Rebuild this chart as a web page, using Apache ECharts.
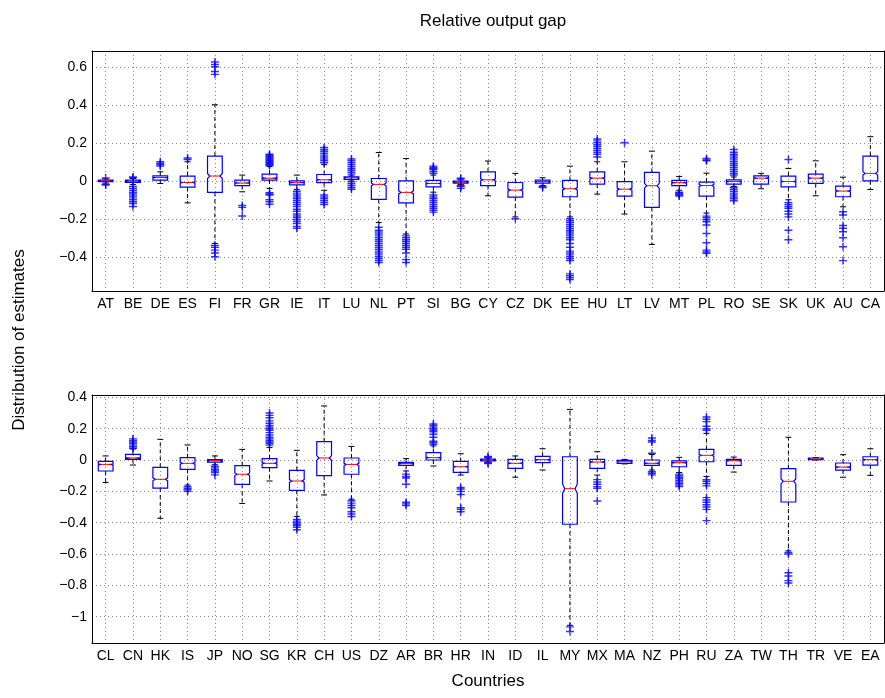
<!DOCTYPE html>
<html>
<head>
<meta charset="utf-8">
<title>Relative output gap</title>
<script src="https://cdn.jsdelivr.net/npm/echarts@6/dist/echarts.min.js"></script>
<style>
  html, body { margin: 0; padding: 0; background: #fff; }
  #chart { width: 885px; height: 698px; }
</style>
</head>
<body>
<div id="chart"></div>
<script>
// box stats per country: [lower whisker, q1, median, q3, upper whisker]
const topCountries = ['AT','BE','DE','ES','FI','FR','GR','IE','IT','LU','NL','PT','SI','BG','CY','CZ','DK','EE','HU','LT','LV','MT','PL','RO','SE','SK','UK','AU','CA'];
const topStats = [
  [-0.012, -0.004, 0, 0.004, 0.01],
  [-0.02, -0.009, -0.003, 0.003, 0.012],
  [-0.014, 0.004, 0.017, 0.026, 0.047],
  [-0.116, -0.033, -0.009, 0.025, 0.1],
  [-0.33, -0.061, 0.025, 0.13, 0.4],
  [-0.058, -0.025, -0.012, 0.004, 0.03],
  [-0.04, 0.004, 0.014, 0.035, 0.075],
  [-0.045, -0.021, -0.01, 0, 0.03],
  [-0.05, -0.01, 0.005, 0.033, 0.085],
  [0.004, 0.007, 0.016, 0.021, 0.026],
  [-0.22, -0.098, -0.019, 0.012, 0.149],
  [-0.28, -0.116, -0.061, 0, 0.117],
  [-0.06, -0.032, -0.014, 0.002, 0.03],
  [-0.02, -0.012, -0.008, -0.002, 0.005],
  [-0.079, -0.025, 0.005, 0.047, 0.104],
  [-0.19, -0.086, -0.049, -0.009, 0.039],
  [-0.025, -0.012, -0.004, 0.004, 0.016],
  [-0.19, -0.084, -0.042, 0.002, 0.077],
  [-0.07, -0.018, 0.014, 0.047, 0.1],
  [-0.175, -0.081, -0.044, -0.004, 0.1],
  [-0.335, -0.14, -0.026, 0.044, 0.156],
  [-0.05, -0.025, -0.01, 0.002, 0.023],
  [-0.17, -0.081, -0.025, -0.007, 0.04],
  [-0.03, -0.018, -0.004, 0.005, 0.02],
  [-0.042, -0.018, 0.014, 0.026, 0.039],
  [-0.1, -0.032, -0.004, 0.025, 0.065],
  [-0.079, -0.014, 0.014, 0.035, 0.105],
  [-0.137, -0.084, -0.054, -0.028, 0.019],
  [-0.046, 0, 0.039, 0.13, 0.232]
];
const topOutliers = [
  [0.015, -0.018, -0.022],
  [0.02, 0.016, -0.03, -0.04, -0.05, -0.06, -0.07, -0.08, -0.09, -0.1, -0.11, -0.12, -0.135],
  [0.078, 0.085, 0.092, 0.1],
  [0.112, 0.12],
  [0.625, 0.612, 0.6, 0.575, 0.56, -0.34, -0.35, -0.365, -0.38, -0.4],
  [-0.13, -0.14, -0.185],
  [0.08, 0.085, 0.09, 0.095, 0.1, 0.105, 0.11, 0.115, 0.12, 0.125, 0.13, 0.135, 0.14, -0.063, -0.07, -0.075, -0.1, -0.11, -0.123],
  [-0.055, -0.065, -0.075, -0.085, -0.095, -0.105, -0.115, -0.125, -0.135, -0.15, -0.16, -0.175, -0.185, -0.195, -0.205, -0.215, -0.225, -0.24, -0.25],
  [0.095, 0.105, 0.115, 0.125, 0.135, 0.145, 0.155, 0.165, 0.175, -0.075, -0.085, -0.095, -0.105, -0.115, -0.125],
  [0.035, 0.045, 0.055, 0.065, 0.075, 0.085, 0.095, 0.105, 0.115, -0.005, -0.015, -0.025, -0.035, -0.045],
  [-0.245, -0.26, -0.27, -0.28, -0.29, -0.3, -0.31, -0.32, -0.33, -0.34, -0.35, -0.36, -0.37, -0.38, -0.39, -0.4, -0.41, -0.42, -0.43],
  [-0.29, -0.3, -0.31, -0.32, -0.33, -0.34, -0.35, -0.36, -0.38, -0.415, -0.43],
  [0.04, 0.05, 0.06, 0.065, 0.07, 0.077, -0.075, -0.085, -0.095, -0.105, -0.115, -0.125, -0.135, -0.145, -0.155, -0.165],
  [0.01, 0.013, -0.025, -0.03, -0.04],
  [],
  [-0.2],
  [-0.03, -0.035],
  [-0.2, -0.21, -0.22, -0.23, -0.24, -0.25, -0.26, -0.27, -0.28, -0.29, -0.3, -0.31, -0.33, -0.35, -0.37, -0.38, -0.39, -0.4, -0.41, -0.42, -0.49, -0.5, -0.51, -0.52],
  [0.125, 0.14, 0.15, 0.16, 0.17, 0.18, 0.19, 0.2, 0.21, 0.22],
  [0.2],
  [],
  [-0.06, -0.065, -0.07, -0.075, -0.08],
  [0.105, 0.11, 0.117, -0.186, -0.195, -0.205, -0.216, -0.233, -0.277, -0.326, -0.365, -0.375, -0.382],
  [0.03, 0.04, 0.05, 0.06, 0.07, 0.08, 0.09, 0.1, 0.11, 0.12, 0.13, 0.14, 0.15, 0.165, -0.035, -0.045, -0.055, -0.065, -0.075, -0.085, -0.095, -0.105],
  [],
  [0.112, -0.115, -0.125, -0.135, -0.145, -0.16, -0.175, -0.19, -0.26, -0.31],
  [],
  [-0.163, -0.18, -0.235, -0.25, -0.268, -0.3, -0.347, -0.42],
  []
];

const bottomCountries = ['CL','CN','HK','IS','JP','NO','SG','KR','CH','US','DZ','AR','BR','HR','IN','ID','IL','MY','MX','MA','NZ','PH','RU','ZA','TW','TH','TR','VE','EA'];
const bottomStats = [
  [-0.143, -0.07, -0.028, -0.009, 0.026],
  [-0.032, 0.004, 0.013, 0.036, 0.07],
  [-0.372, -0.179, -0.123, -0.047, 0.132],
  [-0.16, -0.06, -0.021, 0.015, 0.096],
  [-0.03, -0.013, -0.004, 0.002, 0.026],
  [-0.277, -0.155, -0.091, -0.036, 0.068],
  [-0.134, -0.049, -0.021, 0.009, 0.08],
  [-0.36, -0.194, -0.134, -0.066, 0.062],
  [-0.223, -0.1, 0.013, 0.117, 0.345],
  [-0.25, -0.091, -0.028, 0.013, 0.087],
  null,
  [-0.07, -0.034, -0.023, -0.015, 0.009],
  [-0.038, 0, 0.015, 0.047, 0.09],
  [-0.096, -0.079, -0.043, -0.009, 0.04],
  [-0.012, -0.006, 0, 0.006, 0.012],
  [-0.11, -0.053, -0.021, 0.004, 0.026],
  [-0.064, -0.017, 0.002, 0.023, 0.072],
  [-1.055, -0.41, -0.183, 0.021, 0.323],
  [-0.096, -0.053, -0.013, 0.004, 0.053],
  [-0.025, -0.021, -0.011, -0.002, 0.004],
  [-0.064, -0.034, -0.021, 0, 0.035],
  [-0.08, -0.043, -0.017, -0.006, 0.017],
  [-0.106, -0.011, 0.03, 0.068, 0.17],
  [-0.077, -0.034, -0.004, 0.004, 0.019],
  null,
  [-0.58, -0.268, -0.136, -0.055, 0.145],
  [0, 0.002, 0.006, 0.013, 0.015],
  [-0.11, -0.064, -0.045, -0.019, 0.034],
  [-0.098, -0.032, 0.002, 0.021, 0.072]
];
const bottomOutliers = [
  [],
  [0.075, 0.085, 0.095, 0.105, 0.115, 0.125, 0.135],
  [],
  [-0.17, -0.18, -0.19, -0.2],
  [-0.04, -0.05, -0.06, -0.07, -0.08, -0.095],
  [],
  [0.095, 0.105, 0.115, 0.125, 0.135, 0.145, 0.16, 0.175, 0.19, 0.2, 0.21, 0.22, 0.235, 0.25, 0.27, 0.285, 0.3],
  [-0.38, -0.39, -0.4, -0.41, -0.42, -0.43, -0.445],
  [],
  [-0.26, -0.275, -0.29, -0.305, -0.33, -0.345, -0.36],
  [],
  [-0.09, -0.105, -0.115, -0.155, -0.27, -0.28, -0.29],
  [0.1, 0.11, 0.12, 0.145, 0.165, 0.18, 0.19, 0.2, 0.21, 0.22, 0.23],
  [-0.175, -0.185, -0.2, -0.22, -0.305, -0.315, -0.33],
  [0.018, 0.022, -0.018, -0.022],
  [],
  [],
  [-1.065, -1.095],
  [-0.125, -0.14, -0.155, -0.17, -0.18, -0.262],
  [],
  [0.043, 0.115, 0.125, 0.14, -0.075, -0.085, -0.095],
  [-0.09, -0.1, -0.11, -0.12, -0.13, -0.14, -0.15, -0.16, -0.17],
  [0.19, 0.2, 0.215, 0.245, 0.26, 0.275, -0.125, -0.135, -0.15, -0.165, -0.24, -0.255, -0.27, -0.285, -0.3, -0.315, -0.387],
  [],
  [],
  [-0.59, -0.6, -0.72, -0.74, -0.77, -0.785],
  [],
  [],
  []
];

const FONT = '"Liberation Sans", Arial, Helvetica, sans-serif';
const NOTCH = 0.07; // notch half-height as a share of the IQR
const plusSymbol = 'path://M4.1,0H5.9V4.1H10V5.9H5.9V10H4.1V5.9H0V4.1H4.1Z';

const boxData = stats => stats.map((s, i) => s ? [i].concat(s) : null).filter(Boolean);
const outlierData = outs => outs.flatMap((list, i) => list.map(v => [i, v]));

function renderBox(params, api) {
  const i = api.value(0);
  const lo = api.value(1), q1 = api.value(2), med = api.value(3), q3 = api.value(4), hi = api.value(5);
  const y = v => api.coord([i, v])[1];
  const cx = api.coord([i, med])[0];
  const h = api.size([1, 0])[0] * 0.27;
  const d = h * 0.3;
  const n = NOTCH * (q3 - q1);
  const yN1 = y(Math.max(med - n, q1)), yN2 = y(Math.min(med + n, q3));
  const yQ1 = y(q1), yQ3 = y(q3), yMed = y(med), yLo = y(lo), yHi = y(hi);
  const cap = 3;
  const dash = { stroke: '#000', lineWidth: 1, lineDash: [4, 3] };
  const solid = { stroke: '#000', lineWidth: 1 };
  return {
    type: 'group',
    children: [
      { type: 'line', shape: { x1: cx, y1: yQ3, x2: cx, y2: yHi }, style: dash },
      { type: 'line', shape: { x1: cx, y1: yQ1, x2: cx, y2: yLo }, style: dash },
      { type: 'line', shape: { x1: cx - cap, y1: yHi, x2: cx + cap, y2: yHi }, style: solid },
      { type: 'line', shape: { x1: cx - cap, y1: yLo, x2: cx + cap, y2: yLo }, style: solid },
      {
        type: 'polygon',
        shape: { points: [
          [cx - h, yQ1], [cx - h, yN1], [cx - h + d, yMed], [cx - h, yN2], [cx - h, yQ3],
          [cx + h, yQ3], [cx + h, yN2], [cx + h - d, yMed], [cx + h, yN1], [cx + h, yQ1]
        ] },
        style: { fill: 'none', stroke: '#0000ff', lineWidth: 1.2 }
      },
      { type: 'line', shape: { x1: cx - h + d, y1: yMed, x2: cx + h - d, y2: yMed }, style: { stroke: '#ff0000', lineWidth: 1 } }
    ]
  };
}

const gridLine = { show: true, alignWithLabel: true, lineStyle: { color: '#8a8a8a', type: [1, 3], width: 1 } };
const blackLine = { show: true, onZero: false, lineStyle: { color: '#000', width: 1 } };

function xAxes(gridIndex, cats, withName) {
  return [
    {
      gridIndex, type: 'category', data: cats, position: 'bottom',
      axisLine: blackLine,
      axisTick: { inside: true, alignWithLabel: true, length: 5, lineStyle: { color: '#000' } },
      axisLabel: { interval: 0, color: '#000', fontSize: 14, fontFamily: FONT, margin: 6 },
      splitLine: gridLine,
      name: withName ? 'Countries' : '', nameLocation: 'middle', nameGap: 30,
      nameTextStyle: { color: '#000', fontSize: 17, fontFamily: FONT }
    },
    {
      gridIndex, type: 'category', data: cats, position: 'top',
      axisLine: blackLine,
      axisTick: { inside: true, alignWithLabel: true, length: 5, lineStyle: { color: '#000' } },
      axisLabel: { show: false }, splitLine: { show: false }
    }
  ];
}

function yAxes(gridIndex, min, max, splitNumber) {
  const common = { gridIndex, type: 'value', min, max, splitNumber, axisLine: blackLine,
    axisTick: { inside: true, length: 5, lineStyle: { color: '#000' } } };
  return [
    Object.assign({}, common, {
      position: 'left',
      axisLabel: {
        showMinLabel: false, showMaxLabel: false, color: '#000', fontSize: 14, fontFamily: FONT, margin: 5,
        formatter: v => { const r = Math.round(v * 10) / 10; return r < 0 ? '\u2212' + (-r) : String(r); }
      },
      splitLine: { show: true, lineStyle: { color: '#8a8a8a', type: [1, 3], width: 1 } }
    }),
    Object.assign({}, common, { position: 'right', axisLabel: { show: false }, splitLine: { show: false } })
  ];
}

const chart = echarts.init(document.getElementById('chart'));
chart.setOption({
  animation: false,
  backgroundColor: '#fff',
  title: {
    text: 'Relative output gap', left: 488, top: 8, textAlign: 'center',
    textStyle: { color: '#000', fontSize: 17, fontWeight: 'normal', fontFamily: FONT }
  },
  graphic: [{
    type: 'text', x: 19, y: 340, rotation: Math.PI / 2,
    style: { text: 'Distribution of estimates', fill: '#000', fontSize: 17, fontFamily: FONT, textAlign: 'center', textVerticalAlign: 'middle' }
  }],
  grid: [
    { left: 92, top: 51, width: 792, height: 240 },
    { left: 92, top: 395, width: 792, height: 248 }
  ],
  xAxis: xAxes(0, topCountries, false).concat(xAxes(1, bottomCountries, true)),
  yAxis: yAxes(0, -0.58, 0.683, 6).concat(yAxes(1, -1.168, 0.415, 8)),
  series: [
    { type: 'custom', xAxisIndex: 0, yAxisIndex: 0, renderItem: renderBox, encode: { x: 0, y: [1, 2, 3, 4, 5] }, data: boxData(topStats) },
    { type: 'scatter', xAxisIndex: 0, yAxisIndex: 0, symbol: plusSymbol, symbolSize: 8, itemStyle: { color: '#0000ff' }, data: outlierData(topOutliers) },
    { type: 'custom', xAxisIndex: 2, yAxisIndex: 2, renderItem: renderBox, encode: { x: 0, y: [1, 2, 3, 4, 5] }, data: boxData(bottomStats) },
    { type: 'scatter', xAxisIndex: 2, yAxisIndex: 2, symbol: plusSymbol, symbolSize: 8, itemStyle: { color: '#0000ff' }, data: outlierData(bottomOutliers) }
  ]
});
</script>
</body>
</html>
